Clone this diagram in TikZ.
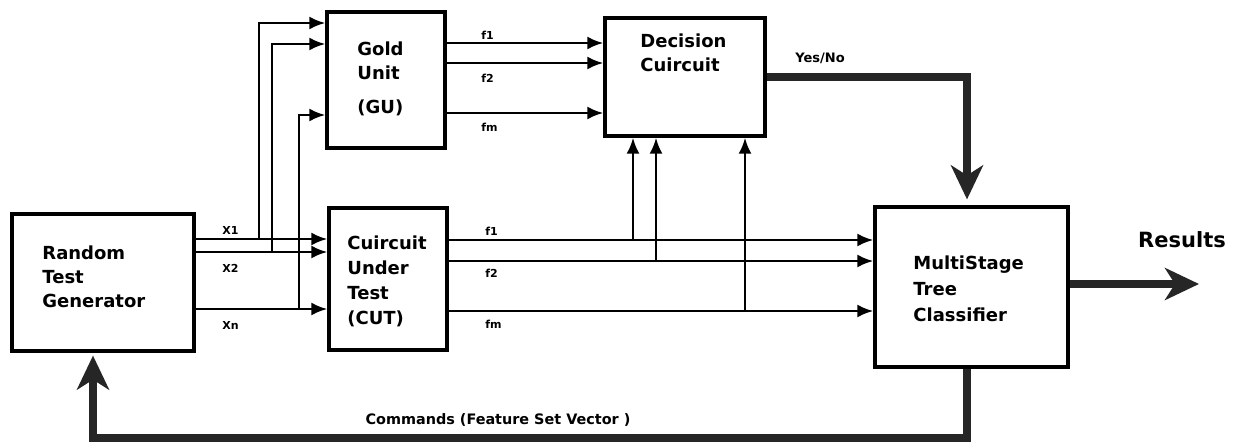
\documentclass[tikz,border=0pt]{standalone}
\usepackage{fontspec}
\setmainfont{DejaVu Sans}
\usetikzlibrary{arrows.meta,calc}
\begin{document}
\begin{tikzpicture}[x=0.5pt,y=-0.5pt,
  block/.style={draw, line width=1.6pt, inner sep=0pt},
  blocktext/.style={anchor=north west, inner sep=0pt, align=left,
    font=\bfseries\fontsize{9}{12}\selectfont},
  sig/.style={line width=1.4pt, -{Latex[length=8pt,width=6.5pt]}},
  bus/.style={line width=4pt, draw=black!85,
    -{Stealth[length=17pt,width=16pt,inset=5pt]}},
  tag/.style={font=\bfseries\fontsize{5.5}{6}\selectfont, inner sep=0pt, anchor=west},
  caption/.style={font=\bfseries\fontsize{6.5}{7}\selectfont, inner sep=0pt},
]
\useasboundingbox (0,0) rectangle (1235,444);
\fill[white] (0,0) rectangle (1235,444);

% blocks
\node[block, minimum width=91pt, minimum height=68.5pt] (rtg) at (103,282.5) {};
\node[block, minimum width=59pt, minimum height=68pt] (gu) at (386,80) {};
\node[block, minimum width=80pt, minimum height=59pt] (dc) at (685,77) {};
\node[block, minimum width=59pt, minimum height=71pt] (cut) at (388,279) {};
\node[block, minimum width=96.5pt, minimum height=80pt] (mstc) at (971.5,287) {};

% block captions
\node[blocktext] (rtgtext) at (42,245) {Random\\Test\\Generator};
\node[blocktext] (gutext) at (357,41) {Gold\\Unit\\[5pt](GU)};
\node[blocktext] (dctext) at (640,33) {Decision\\Cuircuit};
\node[blocktext, font=\bfseries\fontsize{9}{12.5}\selectfont] (cuttext) at (347,235) {Cuircuit\\Under\\Test\\(CUT)};
\node[blocktext, font=\bfseries\fontsize{9}{13}\selectfont] (mstctext) at (913,255) {MultiStage\\Tree\\Classifier};

% test vectors into the circuit under test
\draw[sig] (rtg.east |- 0,239) -- (cut.west |- 0,239);
\draw[sig] (rtg.east |- 0,252) -- (cut.west |- 0,252);
\draw[sig] (rtg.east |- 0,309) -- (cut.west |- 0,309);
% the same vectors into the gold unit
\draw[sig] (259,239) |- (gu.west |- 0,23);
\draw[sig] (272,252) |- (gu.west |- 0,44);
\draw[sig] (299,309) |- (gu.west |- 0,115);

% gold unit features
\draw[sig] (gu.east |- 0,43) -- (dc.west |- 0,43);
\draw[sig] (gu.east |- 0,63) -- (dc.west |- 0,63);
\draw[sig] (gu.east |- 0,113) -- (dc.west |- 0,113);

% circuit under test features
\draw[sig] (cut.east |- 0,240) -- (mstc.west |- 0,240);
\draw[sig] (cut.east |- 0,261) -- (mstc.west |- 0,261);
\draw[sig] (cut.east |- 0,311) -- (mstc.west |- 0,311);
\draw[sig] (633,240) -- (633,0 |- dc.south);
\draw[sig] (656,261) -- (656,0 |- dc.south);
\draw[sig] (745,311) -- (745,0 |- dc.south);

% signal labels
\node[tag] (lx1) at (222,230) {X1};
\node[tag] (lx2) at (222,268) {X2};
\node[tag] (lxn) at (222,325) {Xn};
\node[tag] (lgf1) at (481,35) {f1};
\node[tag] (lgf2) at (481,78) {f2};
\node[tag] (lgfm) at (481,127) {fm};
\node[tag] (lcf1) at (485,231) {f1};
\node[tag] (lcf2) at (485,273) {f2};
\node[tag] (lcfm) at (485,324) {fm};

% wide buses
\coordinate (restip) at (1199,284);
\draw[bus, shorten >=3pt] (dc.east |- 0,77) -| (967,0 |- mstc.north);
\draw[bus] (mstc.east |- restip) -- (restip);
\draw[bus, shorten >=1.5pt] (967,0 |- mstc.south) -- (967,438) -| (93,0 |- rtg.south);

\node[caption] (yesno) at (820,58) {Yes/No};
\node[font=\bfseries\fontsize{10.5}{12}\selectfont, inner sep=0pt] (results) at (1182,240) {Results};
\node[caption, font=\bfseries\fontsize{7.2}{8}\selectfont] (cmd) at (498,420) {Commands (Feature Set Vector )};
\end{tikzpicture}
\end{document}
